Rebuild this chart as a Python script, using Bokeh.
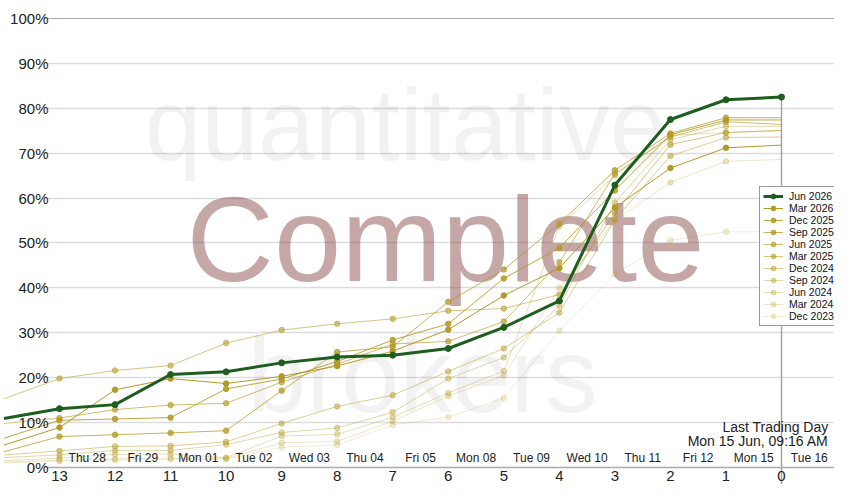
from bokeh.plotting import figure
from bokeh.models import (Range1d, FixedTicker, Legend, LegendItem,
                          ColumnDataSource, Label, Grid)
from bokeh.embed import file_html
from bokeh.resources import INLINE
from bokeh.core.properties import value

# ---------------- data ----------------
days_to_expiry = [14, 13, 12, 11, 10, 9, 8, 7, 6, 5, 4, 3, 2, 1, 0]

jun_2026 = [10.9, 13.1, 14.0, 20.7, 21.3, 23.3, 24.6, 25.0, 26.5, 31.2, 37.1, 62.9, 77.5, 81.9, 82.5]
mar_2026 = [5.0, 8.9, 17.3, 19.8, 18.7, 20.3, 22.6, 25.9, 30.7, 38.3, 44.4, 57.9, 66.7, 71.2, 71.8]
dec_2025 = [6.5, 10.5, 10.8, 11.1, 17.5, 19.7, 23.6, 28.4, 32.0, 42.1, 48.9, 61.7, 74.1, 77.4, 77.4]
sep_2025 = [3.5, 6.9, 7.3, 7.7, 8.2, 17.1, 25.7, 26.9, 36.9, 44.1, 54.3, 66.2, 74.4, 77.9, 77.9]
jun_2025 = [9.8, 11.0, 12.9, 13.9, 14.3, 19.0, 23.0, 27.5, 28.1, 32.5, 45.7, 65.4, 73.6, 77.0, 76.4]
mar_2025 = [15.3, 19.8, 21.6, 22.7, 27.7, 30.6, 32.0, 33.1, 34.9, 35.4, 38.5, 56.7, 71.9, 74.6, 75.1]
dec_2024 = [2.8, 3.7, 4.7, 4.8, 5.7, 9.8, 13.6, 16.1, 21.4, 26.5, 34.5, 55.2, 69.4, 73.5, 73.6]
sep_2024 = [2.2, 2.8, 3.8, 3.8, 5.1, 7.8, 8.8, 12.3, 19.8, 24.5, 36.0, 59.0, 73.0, 76.0, 76.0]
jun_2024 = [1.5, 2.1, 2.9, 3.0, 2.2, 7.0, 7.4, 11.2, 16.6, 21.5, 53.7, 65.0, 74.0, 74.6, 75.0]
mar_2024 = [1.2, 1.6, 1.9, 2.1, 2.0, 5.5, 5.8, 10.3, 15.9, 20.5, 40.0, 55.0, 63.5, 68.2, 68.6]
dec_2023 = [1.0, 1.4, 1.6, 1.8, 1.8, 4.5, 5.0, 9.5, 11.2, 15.5, 30.5, 43.0, 50.6, 52.5, 52.5]

gold_names = ["Mar 2026", "Dec 2025", "Sep 2025", "Jun 2025", "Mar 2025",
              "Dec 2024", "Sep 2024", "Jun 2024", "Mar 2024", "Dec 2023"]
gold_series = [mar_2026, dec_2025, sep_2025, jun_2025, mar_2025,
               dec_2024, sep_2024, jun_2024, mar_2024, dec_2023]

date_labels = ["Thu 28", "Fri 29", "Mon 01", "Tue 02", "Wed 03", "Thu 04", "Fri 05",
               "Mon 08", "Tue 09", "Wed 10", "Thu 11", "Fri 12", "Mon 15", "Tue 16"]
y_ticks = [0, 10, 20, 30, 40, 50, 60, 70, 80, 90, 100]
y_tick_labels = [f"{t}%" for t in y_ticks]
last_day_lines = ["Last Trading Day", "Mon 15 Jun, 09:16 AM"]

# ---------------- styles ----------------
FONT = "Liberation Sans"
GREEN = "#1d5e1f"
GOLD = "#b39a25"
gold_alphas = [1.0, 0.86, 0.75, 0.65, 0.56, 0.48, 0.4, 0.32, 0.25, 0.19]

y_start = -3.79
p = figure(width=834, height=484, output_backend="svg", toolbar_location=None,
           x_range=Range1d(14.062, -0.954), y_range=Range1d(y_start, 102.23),
           min_border_left=0, min_border_right=0, min_border_top=8,
           min_border_bottom=0)
p.outline_line_color = None
p.background_fill_color = "white"
p.border_fill_color = "white"

# axes: x axis pinned to the 0% line
p.yaxis.visible = False
xa = p.xaxis[0]
xa.fixed_location = 0
xa.ticker = FixedTicker(ticks=list(range(0, 14)))
xa.major_tick_line_color = None
xa.minor_tick_line_color = None
xa.major_tick_out = 0
xa.major_label_standoff = 4
xa.major_label_text_font = FONT
xa.major_label_text_font_size = "15px"
xa.major_label_text_color = "#222222"
xa.axis_line_color = "#aaaaaa"
xa.axis_line_width = 1.5
xa.bounds = (-0.97, 13.234)

p.xgrid.visible = False
yg = p.ygrid[0]
yg.ticker = FixedTicker(ticks=y_ticks[1:-1])
yg.grid_line_color = "#dddddd"
yg.grid_line_width = 1.5
top_grid = Grid(dimension=1, ticker=FixedTicker(ticks=[100]),
                grid_line_color="#aaaaaa", grid_line_width=1.2)
p.add_layout(top_grid)
for g in (yg, top_grid):
    if "cross_bounds" in g.properties():
        g.cross_bounds = (-0.97, 13.234)

# watermarks
p.text(x=[6.77], y=[76.2], text=["quantitative"], text_font=value(FONT),
       text_font_size="102px", text_align="center", text_baseline="alphabetic",
       text_color="#000000", text_alpha=0.05)
p.text(x=[6.46], y=[20.4], text=["brokers"], text_font=value(FONT),
       text_font_size="105px", text_align="center", text_baseline="alphabetic",
       text_color="#000000", text_alpha=0.05)
p.text(x=[6.05], y=[50.8], text=["Complete"], text_font=value(FONT),
       text_font_size="121px", text_align="center", text_baseline="alphabetic",
       text_color="#804040", text_alpha=0.46)

# drop line from the latest value down through the axis
p.segment(x0=[days_to_expiry[-1]], y0=[y_start], x1=[days_to_expiry[-1]],
          y1=[jun_2026[-1]], line_color="#a0a0a0", line_width=1.4)

# series
legend_items = []
gold_renderers = []
for name, vals, a in reversed(list(zip(gold_names, gold_series, gold_alphas))):
    lr = p.line(days_to_expiry, vals, line_color=GOLD, line_alpha=a, line_width=1)
    sr = p.scatter(days_to_expiry[1:-1], vals[1:-1], size=5.5, marker="circle",
                   fill_color=GOLD, line_color=GOLD, fill_alpha=a, line_alpha=a)
    gold_renderers.append((name, lr, sr))

g_line = p.line(days_to_expiry, jun_2026, line_color=GREEN, line_width=3)
g_pts = p.scatter(days_to_expiry[1:], jun_2026[1:], size=6, marker="circle",
                  fill_color=GREEN, line_color=GREEN)

legend_items.append(LegendItem(label="Jun 2026", renderers=[g_line, g_pts]))
for name, lr, sr in reversed(gold_renderers):
    legend_items.append(LegendItem(label=name, renderers=[lr, sr]))

# date labels between day ticks
date_src = ColumnDataSource(dict(x=[d - 0.5 for d in range(13, -1, -1)],
                                 y=[2.2] * len(date_labels), text=date_labels))
p.text(x="x", y="y", text="text", source=date_src, text_font=value(FONT),
       text_font_size="12px", text_align="center", text_baseline="middle",
       text_color="#222222")

# y tick labels (drawn inside the plot area, as in the reference)
for t, lab in zip(y_ticks, y_tick_labels):
    p.add_layout(Label(x=13.198, y=t, text=lab, text_font=FONT,
                       text_font_size="15px", text_align="right",
                       text_baseline="middle", text_color="#222222"))

# last trading day caption (right-aligned at the plot edge)
for txt, yy in zip(last_day_lines, [9.0, 5.9]):
    p.add_layout(Label(x=828, y=yy, x_units="screen", text=txt, text_font=FONT,
                       text_font_size="14px", text_align="right",
                       text_baseline="middle", text_color="#222222"))

legend = Legend(items=legend_items, location=(759, 158))
legend.label_text_font = FONT
legend.label_text_font_size = "10.5px"
legend.label_text_color = "#111111"
legend.glyph_width = 20
legend.glyph_height = 12
legend.label_height = 12
legend.label_standoff = 6
legend.spacing = 0
legend.padding = 3
legend.margin = 0
legend.border_line_color = "#333333"
legend.border_line_width = 1
legend.background_fill_color = "white"
legend.background_fill_alpha = 1.0
p.add_layout(legend)

open("out.html", "w").write(file_html(p, INLINE))
